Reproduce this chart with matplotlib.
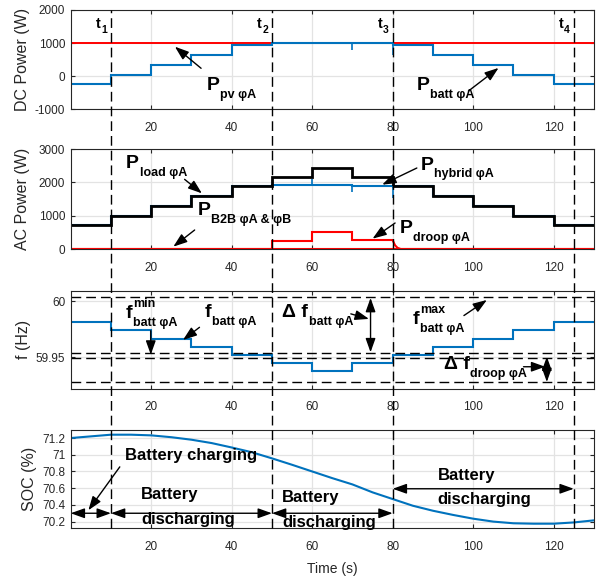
import numpy as np
import matplotlib
matplotlib.use("Agg")
import matplotlib.pyplot as plt
from matplotlib.lines import Line2D

plt.rcParams["font.family"] = ["Liberation Sans", "DejaVu Sans"]
plt.rcParams["axes.unicode_minus"] = False

BLUE = "#0072BD"
RED = "#FF0000"
GRID = "#e3e3e3"
AX = "#262626"

# ---- data ----
t_edges = [0, 10, 20, 30, 40, 50, 60, 70, 80, 90, 100, 110, 120, 130]
t_events = [10, 50, 80, 125]
t_names = ["1", "2", "3", "4"]

p_pv = [1000] * 13
p_batt = [-250, 50, 350, 650, 950, 1000, 1000, 1000, 950, 650, 350, 50, -250]
batt_spike_t = [70, 80]
batt_spike_lo = [800, 650]

p_load = [730, 1000, 1300, 1600, 1880, 2150, 2440, 2160, 1880, 1600, 1300, 1000, 730]
p_hybrid = [730, 1000, 1300, 1600, 1880, 1930, 1930, 1900, 1880, 1600, 1300, 1000, 730]
hyb_spike_t = [60, 70, 80]
hyb_spike_from = [1930, 1930, 1880]
hyb_spike_to = [2100, 1700, 1520]
p_b2b = [0] * 13
p_droop = [0, 0, 0, 0, 0, 230, 510, 260]
droop_tail_t = [80, 80.6, 81.2, 82, 130]
droop_tail = [260, 110, 35, 0, 0]

f_batt = [59.9812, 59.9744, 59.9664, 59.9595, 59.9524, 59.9452, 59.9381,
          59.9452, 59.9524, 59.9595, 59.9664, 59.9744, 59.9812]
f_limits = [60.004, 59.9535, 59.949, 59.9277]

soc_t = [0, 5, 10, 15, 20, 25, 30, 35, 40, 45, 50, 55, 60, 65, 70, 75, 80,
         85, 90, 95, 100, 105, 110, 115, 120, 125, 130]
soc = [71.20, 71.22, 71.24, 71.24, 71.232, 71.21, 71.18, 71.14, 71.087, 71.03,
       70.957, 70.88, 70.80, 70.72, 70.645, 70.55, 70.47, 70.39, 70.33, 70.28,
       70.235, 70.20, 70.18, 70.175, 70.175, 70.19, 70.215]

fig = plt.figure(figsize=(5.98, 5.78), dpi=100)
renderer = fig.canvas.get_renderer()
L, W = 0.1182, 0.875
ax1 = fig.add_axes([L, 0.8109, W, 0.1718])
ax2 = fig.add_axes([L, 0.5692, W, 0.1730])
ax3 = fig.add_axes([L, 0.3275, W, 0.1696])
ax4 = fig.add_axes([L, 0.0860, W, 0.1706])
axes = [ax1, ax2, ax3, ax4]

for ax in axes:
    ax.set_xlim(0, 130)
    ax.set_xticks([20, 40, 60, 80, 100, 120])
    ax.grid(True, color=GRID, lw=0.9)
    ax.set_axisbelow(True)
    ax.tick_params(direction="in", top=True, right=True, length=3, colors=AX,
                   labelsize=8.5, labelcolor=AX)
    ax.tick_params(axis="x", pad=9)
    ax.tick_params(axis="y", pad=4)
    for s in ax.spines.values():
        s.set_color(AX)
        s.set_linewidth(0.8)

ylab_font = dict(fontsize=11.5, color=AX)
ARW = dict(arrowstyle="-|>,head_length=0.7,head_width=0.25", color="black",
           lw=1.0, shrinkA=0, shrinkB=0, mutation_scale=12)
DARW = dict(arrowstyle="<|-|>,head_length=0.7,head_width=0.25", color="black",
            lw=1.0, shrinkA=0, shrinkB=0, mutation_scale=12)
DASH = (0, (7, 3.6))


def sym(ax, x, y, main, sub=None, sup=None, size=14, ssize=9, drop=5.5, rise=7.7):
    # big bold symbol with sub/superscript placed right after it (MATLAB look)
    t = ax.text(x, y, main, fontsize=size, fontweight="bold", va="baseline")
    w = t.get_window_extent(renderer).width * 72 / fig.dpi
    for s, dy in ((sub, -drop), (sup, rise)):
        if s:
            ax.annotate(s, (x, y), xytext=(w + 0.5, dy), textcoords="offset points",
                        fontsize=ssize, fontweight="bold", va="baseline")


# ---- DC power ----
ax1.stairs(p_pv, t_edges, color=RED, lw=1.4, baseline=None)
ax1.stairs(p_batt, t_edges, color=BLUE, lw=1.5, baseline=None)
ax1.vlines(batt_spike_t, batt_spike_lo, [p_batt[6], p_batt[7]], color=BLUE, lw=1.2)
ax1.set_ylim(-1000, 2000)
ax1.set_yticks([-1000, 0, 1000, 2000])
ax1.set_ylabel("DC Power (W)", **ylab_font)
ax1.yaxis.set_label_coords(-0.078, 0.5)
for t, n in zip(t_events, t_names):
    sym(ax1, t - 3.7, 1465, "t", sub=n, size=10.5, ssize=7.5, drop=4)
sym(ax1, 33.8, -417, "P", sub="pv φA")
ax1.annotate("", xy=(25.9, 891), xytext=(32.4, 239), arrowprops=ARW)
sym(ax1, 86, -417, "P", sub="batt φA")
ax1.annotate("", xy=(106.3, 250), xytext=(98.8, -450), arrowprops=ARW)

# ---- AC power ----
ax2.stairs(p_b2b, t_edges, color=RED, lw=1.5, baseline=None)
ax2.stairs(p_droop, t_edges[:9], color=RED, lw=1.5, baseline=None)
ax2.plot(droop_tail_t, droop_tail, color=RED, lw=1.5)
ax2.stairs(p_hybrid, t_edges, color=BLUE, lw=1.5, baseline=None)
ax2.vlines(hyb_spike_t, hyb_spike_from, hyb_spike_to, color=BLUE, lw=1.2)
ax2.stairs(p_load, t_edges, color="black", lw=2.0, baseline=None)
ax2.set_ylim(0, 3000)
ax2.set_yticks([0, 1000, 2000, 3000])
ax2.set_ylabel("AC Power (W)", **ylab_font)
ax2.yaxis.set_label_coords(-0.078, 0.5)
sym(ax2, 13.8, 2430, "P", sub="load φA")
ax2.annotate("", xy=(32.6, 1670), xytext=(28.3, 2090), arrowprops=ARW)
sym(ax2, 31.6, 1020, "P", sub="B2B φA & φB")
ax2.annotate("", xy=(25.5, 70), xytext=(30.8, 570), arrowprops=ARW)
sym(ax2, 86.9, 2380, "P", sub="hybrid φA")
ax2.annotate("", xy=(77.4, 1930), xytext=(86.0, 2430), arrowprops=ARW)
sym(ax2, 81.7, 480, "P", sub="droop φA")
ax2.annotate("", xy=(75.0, 310), xytext=(80.6, 780), arrowprops=ARW)

# ---- frequency ----
ax3.stairs(f_batt, t_edges, color=BLUE, lw=1.5, baseline=None)
for f in f_limits:
    ax3.axhline(f, color="black", lw=1.0, ls=DASH)
ax3.set_ylim(59.922, 60.0095)
ax3.set_yticks([59.95, 60])
ax3.set_yticklabels(["59.95", "60"])
ax3.set_ylabel("f (Hz)", **ylab_font)
ax3.yaxis.set_label_coords(-0.075, 0.5)
sym(ax3, 13.6, 59.9852, "f", sub="batt φA", sup="min")
ax3.annotate("", xy=(19.9, 59.9524), xytext=(19.9, 59.9738), arrowprops=ARW)
sym(ax3, 33.3, 59.9857, "f", sub="batt φA")
ax3.annotate("", xy=(27.9, 59.9655), xytext=(32.0, 59.9768), arrowprops=ARW)
sym(ax3, 52.5, 59.9857, "Δ f", sub="batt φA")
ax3.annotate("", xy=(74.1, 59.9843), xytext=(69.6, 59.9888), arrowprops=ARW)
ax3.annotate("", xy=(74.5, 60.003), xytext=(74.5, 59.9545), arrowprops=DARW)
sym(ax3, 85.0, 59.9798, "f", sub="batt φA", sup="max")
ax3.annotate("", xy=(103.4, 60.0012), xytext=(97.7, 59.9873), arrowprops=ARW)
sym(ax3, 92.7, 59.9397, "Δ f", sub="droop φA")
ax3.annotate("", xy=(117.9, 59.9416), xytext=(112.5, 59.9416), arrowprops=ARW)
ax3.annotate("", xy=(118.3, 59.9506), xytext=(118.3, 59.928), arrowprops=DARW)

# ---- SOC ----
ax4.plot(soc_t, soc, color=BLUE, lw=1.5)
ax4.set_ylim(70.12, 71.3)
ax4.set_yticks([70.2, 70.4, 70.6, 70.8, 71.0, 71.2])
ax4.set_yticklabels(["70.2", "70.4", "70.6", "70.8", "71", "71.2"])
ax4.set_ylabel("SOC (%)", **ylab_font)
ax4.yaxis.set_label_coords(-0.065, 0.5)
ax4.set_xlabel("Time (s)", fontsize=10, color=AX)
ax4.xaxis.set_label_coords(0.5, -0.34)
TF = dict(fontsize=12, fontweight="bold", color="black", va="baseline")
ax4.text(13.5, 70.936, "Battery charging", **TF)
ax4.annotate("", xy=(4.4, 70.336), xytext=(12.2, 70.855), arrowprops=ARW)
ax4.annotate("", xy=(0, 70.30), xytext=(10, 70.30), arrowprops=DARW)
ax4.annotate("", xy=(10, 70.30), xytext=(50, 70.30), arrowprops=DARW)
ax4.annotate("", xy=(50, 70.30), xytext=(80, 70.30), arrowprops=DARW)
ax4.annotate("", xy=(80, 70.593), xytext=(125, 70.593), arrowprops=DARW)
ax4.text(17.5, 70.476, "Battery", **TF)
ax4.text(17.5, 70.176, "discharging", **TF)
ax4.text(52.5, 70.435, "Battery", **TF)
ax4.text(52.5, 70.135, "discharging", **TF)
ax4.text(91.2, 70.694, "Battery", **TF)
ax4.text(91.2, 70.41, "discharging", **TF)

# ---- event lines through all panels ----
inv = fig.transFigure.inverted()
y_top = ax1.get_position().y1
y_bot = ax4.get_position().y0
for t in t_events:
    xf = inv.transform(ax4.transData.transform((t, 0)))[0]
    fig.add_artist(Line2D([xf, xf], [y_bot, y_top], transform=fig.transFigure,
                          color="black", lw=1.0, ls=DASH, zorder=5))

fig.savefig("out.png", dpi=100)
